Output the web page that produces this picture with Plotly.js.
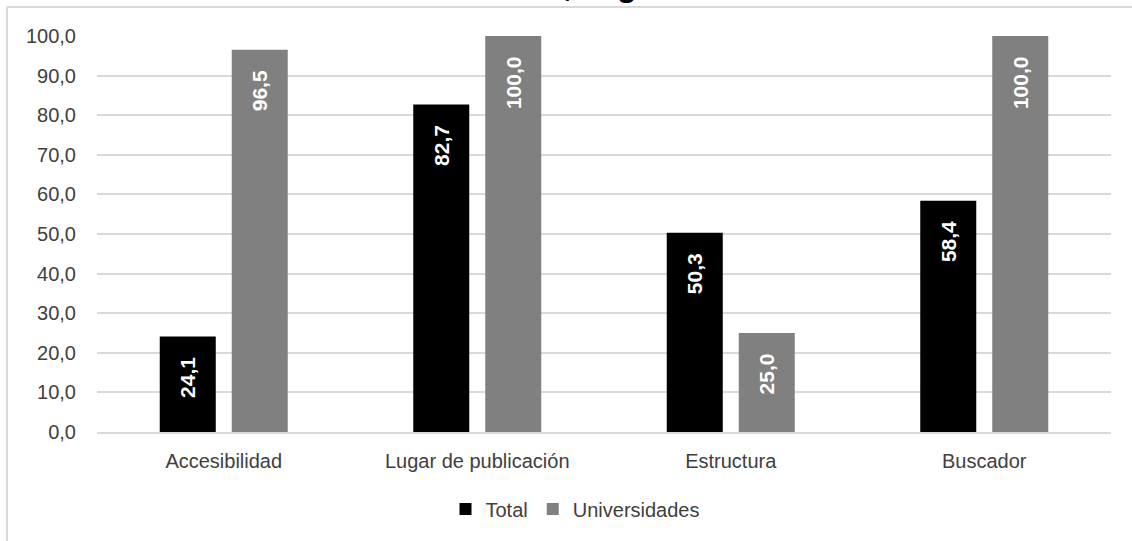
<!DOCTYPE html>
<html>
<head>
<meta charset="utf-8">
<script src="https://cdn.plot.ly/plotly-3.0.1.min.js"></script>
<style>html,body{margin:0;padding:0;background:#fff;}#chart{width:1132px;height:541px;}</style>
</head>
<body>
<div id="chart"></div>
<script>
var categories = ["Accesibilidad", "Lugar de publicación", "Estructura", "Buscador"];
var totalValues = [24.1, 82.7, 50.3, 58.4];
var univValues = [96.5, 100.0, 25.0, 100.0];
var seriesNames = ["Total", "Universidades"];
var titleText = "Universidades, según criterio";

var FONT = "Liberation Sans, Arial, sans-serif";
var labelFont = {family: FONT, size: 21, color: "#ffffff", weight: "bold"};

function barTrace(name, vals, color) {
  return {
    type: "bar",
    name: name,
    x: categories,
    y: vals,
    marker: {color: color, line: {width: 0}},
    texttemplate: "<b>%{y:.1f}</b>\u00a0\u00a0\u00a0",
    textposition: "inside",
    insidetextanchor: "end",
    textangle: -90,
    textfont: labelFont,
    constraintext: "none",
    cliponaxis: false,
    hoverinfo: "skip"
  };
}

var data = [
  barTrace(seriesNames[0], totalValues, "#000000"),
  barTrace(seriesNames[1], univValues, "#808080")
];

var pxL = 97, pxR = 21, pxT = 36, pxB = 109;
var W = 1132, H = 541;
var plotW = W - pxL - pxR, plotH = H - pxT - pxB;
function px2x(px) { return (px - pxL) / plotW; }
function px2y(py) { return (H - pxB - py) / plotH; }

var layout = {
  width: W, height: H,
  margin: {l: pxL, r: pxR, t: pxT, b: pxB, pad: 0},
  paper_bgcolor: "#ffffff",
  plot_bgcolor: "#ffffff",
  separators: ",.",
  font: {family: FONT, size: 20, color: "#404040"},
  barmode: "group",
  bargap: 0.432,
  bargroupgap: 0.222,
  showlegend: true,
  legend: {
    orientation: "h",
    x: px2x(575), xanchor: "center",
    y: px2y(509), yanchor: "middle",
    font: {size: 20, color: "#404040"},
    itemwidth: 30,
    tracegroupgap: 0
  },
  xaxis: {
    type: "category",
    showgrid: false,
    showline: true,
    linecolor: "#d9d9d9",
    linewidth: 2,
    ticks: "",
    ticklabelstandoff: 10,
    tickfont: {size: 20, color: "#404040"},
    fixedrange: true
  },
  yaxis: {
    range: [0, 100],
    dtick: 10,
    tickformat: ".1f",
    showgrid: true,
    gridcolor: "#d9d9d9",
    gridwidth: 2,
    zeroline: false,
    showline: false,
    ticks: "",
    ticklabelstandoff: 20,
    tickfont: {size: 20, color: "#404040"},
    fixedrange: true
  },
  shapes: [
    {type: "line", xref: "paper", yref: "paper", x0: px2x(7), x1: px2x(7), y0: px2y(7), y1: px2y(545), line: {color: "#d9d9d9", width: 2}},
    {type: "line", xref: "paper", yref: "paper", x0: px2x(7), x1: px2x(1140), y0: px2y(7), y1: px2y(7), line: {color: "#d9d9d9", width: 2}}
  ],
  annotations: [
    {
      text: "<b><i>" + titleText + "</i></b>",
      xref: "paper", yref: "paper",
      x: px2x(571), xanchor: "center",
      y: px2y(5), yanchor: "bottom",
      showarrow: false,
      font: {size: 32, color: "#000000"}
    }
  ]
};

Plotly.newPlot("chart", data, layout, {staticPlot: true, displayModeBar: false});
</script>
</body>
</html>
